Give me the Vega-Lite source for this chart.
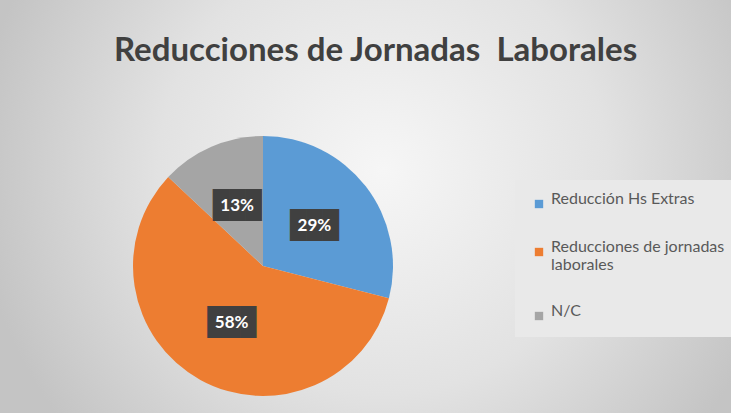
{
  "$schema": "https://vega.github.io/schema/vega-lite/v6.json",
  "width": 526,
  "height": 262,
  "autosize": {"type": "none"},
  "padding": {"left": 0, "top": 135, "right": 205, "bottom": 16},
  "background": "#dcdcdc",
  "config": {"view": {"stroke": null}},
  "title": {
    "text": "Reducciones de Jornadas \u00a0Laborales",
    "anchor": "start",
    "frame": "group",
    "dx": 114,
    "offset": -402,
    "font": "Lato",
    "fontSize": 33,
    "fontWeight": "bold",
    "color": "#404040"
  },
  "data": {
    "values": [
      {"categoria": "Reducción Hs Extras", "valor": 29, "orden": 1, "etiqueta": "29%"},
      {"categoria": "Reducciones de jornadas laborales", "valor": 58, "orden": 2, "etiqueta": "58%"},
      {"categoria": "N/C", "valor": 13, "orden": 3, "etiqueta": "13%"}
    ]
  },
  "layer": [
    {
      "data": {"values": [{}]},
      "mark": {
        "type": "arc",
        "outerRadius": 600,
        "theta": 0,
        "theta2": 6.2832,
        "fill": {
          "gradient": "radial",
          "x1": 0.6, "y1": 0.42, "r1": 0,
          "x2": 0.6, "y2": 0.42, "r2": 0.34,
          "stops": [
            {"offset": 0, "color": "#f6f6f6"},
            {"offset": 0.55, "color": "#e2e2e2"},
            {"offset": 1, "color": "#c4c4c4"}
          ]
        }
      },
      "encoding": {}
    },
    {
      "mark": {"type": "arc", "outerRadius": 130},
      "encoding": {
        "theta": {"field": "valor", "type": "quantitative", "stack": true},
        "order": {"field": "orden", "type": "quantitative"},
        "color": {
          "field": "categoria",
          "type": "nominal",
          "scale": {
            "domain": ["Reducción Hs Extras", "Reducciones de jornadas laborales", "N/C"],
            "range": ["#5B9BD5", "#ED7D31", "#A5A5A5"]
          },
          "legend": {
            "title": null,
            "orient": "none",
            "legendX": 515,
            "legendY": 45,
            "fillColor": "#e9e9e9",
            "padding": 16,
            "symbolType": "square",
            "symbolSize": 70,
            "symbolStrokeWidth": 0,
            "labelFont": "Lato",
            "labelFontSize": 16,
            "labelColor": "#595959",
            "labelLimit": 300,
            "labelOffset": 4,
            "labelBaseline": "alphabetic",
            "rowPadding": 30,
            "labelExpr": "datum.label == 'Reducciones de jornadas laborales' ? ['Reducciones de jornadas', 'laborales'] : datum.label"
          }
        }
      }
    },
    {
      "mark": {"type": "text", "radius": 65, "font": "DejaVu Sans Mono", "fontSize": 27, "color": "#404040", "baseline": "middle", "align": "center"},
      "encoding": {
        "theta": {"field": "valor", "type": "quantitative", "stack": true},
        "order": {"field": "orden", "type": "quantitative"},
        "text": {"value": "███"}
      }
    },
    {
      "mark": {"type": "text", "radius": 65, "font": "Lato", "fontSize": 17, "fontWeight": "bold", "color": "white", "baseline": "middle", "align": "center"},
      "encoding": {
        "theta": {"field": "valor", "type": "quantitative", "stack": true},
        "order": {"field": "orden", "type": "quantitative"},
        "text": {"field": "etiqueta"}
      }
    }
  ]
}
